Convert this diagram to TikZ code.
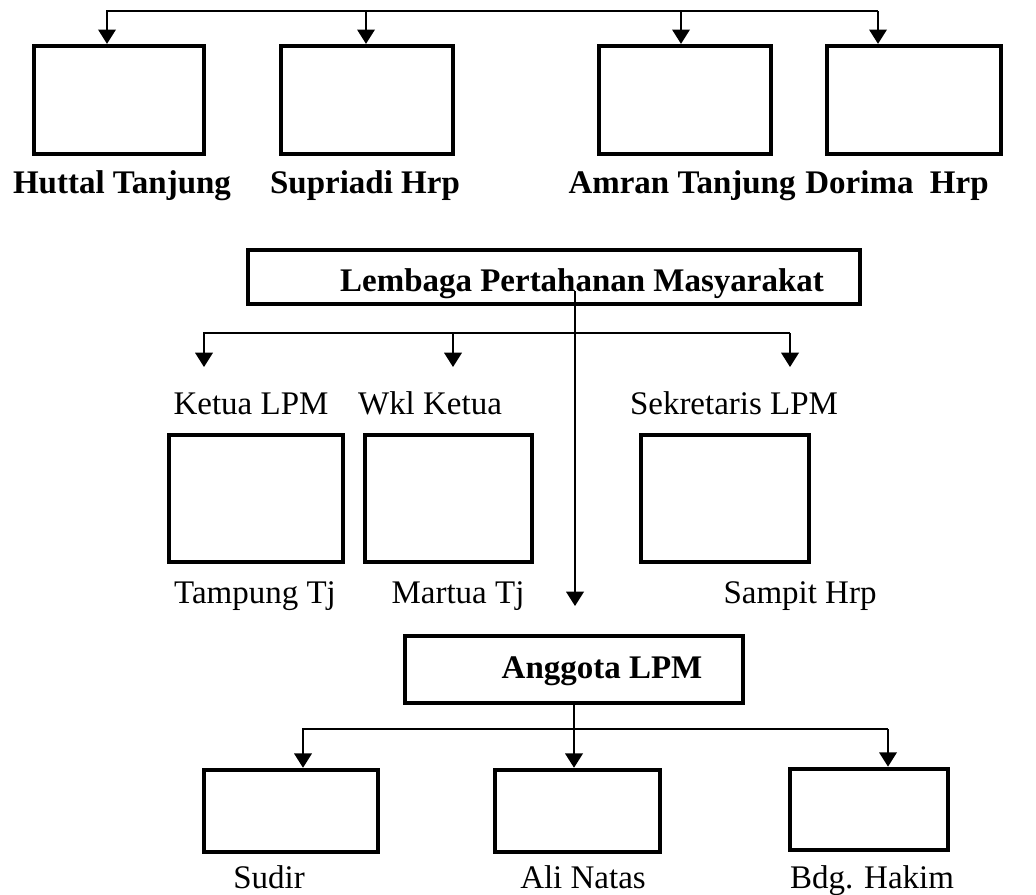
\documentclass[tikz,border=0pt]{standalone}
\usepackage{fontspec}
\setmainfont{Liberation Serif}
\usetikzlibrary{arrows.meta}

\begin{document}
\begin{tikzpicture}[
    x=0.01278cm, y=-0.01278cm,
    box/.style={rectangle, draw, line width=1.6pt, minimum width=2.2cm, minimum height=1.38cm},
    headbox/.style={rectangle, draw, line width=1.6pt},
    bold/.style={anchor=base, font=\fontsize{12}{14}\selectfont\bfseries},
    plain/.style={anchor=base, font=\fontsize{12}{14}\selectfont},
    link/.style={line width=0.6pt},
    arr/.style={link, -{Triangle[length=5.2pt,width=6.4pt]}}
]
    \useasboundingbox (0,0) rectangle (1036,894);

    % top row
    \node[box, minimum width=2.17cm] (hut) at (119,100) {};
    \node[box] (sup) at (367,100) {};
    \node[box] (amr) at (685,100) {};
    \node[box, minimum width=2.22cm] (dor) at (914,100) {};
    \node[bold] (huttal) at (122,193) {Huttal Tanjung};
    \node[bold] (supriadi) at (365,193) {Supriadi Hrp};
    \node[bold] (amran) at (682,193) {Amran Tanjung};
    \node[bold] (dorima) at (897,193) {Dorima\ \ Hrp};

    \coordinate (t1) at (107,11);
    \coordinate (t2) at (366,11);
    \coordinate (t3) at (681,11);
    \coordinate (t4) at (878,11);
    \draw[arr] (t4) -- (t1) -- (t1 |- hut.north);
    \draw[arr] (t2) -- (t2 |- sup.north);
    \draw[arr] (t3) -- (t3 |- amr.north);
    \draw[arr] (t4) -- (t4 |- dor.north);

    % LPM
    \node[headbox, minimum width=7.82cm, minimum height=0.69cm] (lpm) at (554,277) {};
    \node[bold] (lpmtext) at (582,291) {Lembaga Pertahanan Masyarakat};

    \coordinate (m1) at (204,333);
    \coordinate (m2) at (453,333);
    \coordinate (m3) at (790,333);
    \coordinate (k1) at (204,367);
    \coordinate (k2) at (453,367);
    \coordinate (k3) at (790,367);
    \draw[arr] (m3) -- (m1) -- (k1);
    \draw[arr] (m2) -- (k2);
    \draw[arr] (m3) -- (k3);

    \node[plain] (ketua) at (251,414) {Ketua LPM};
    \node[plain] (wakil) at (430,414) {Wkl Ketua};
    \node[plain] (sekr) at (734,414) {Sekretaris LPM};

    \node[box, minimum width=2.22cm, minimum height=1.62cm] (tamp) at (256,498.5) {};
    \node[box, minimum width=2.13cm, minimum height=1.62cm] (mart) at (448.5,498.5) {};
    \node[box, minimum width=2.15cm, minimum height=1.62cm] (samp) at (725,498.5) {};
    \node[plain] (tampung) at (255,603) {Tampung Tj};
    \node[plain] (martua) at (458,603) {Martua Tj};
    \node[plain] (sampit) at (800,603) {Sampit Hrp};

    \coordinate (drop) at (575,606);
    \draw[arr] (drop |- lpmtext.base) -- (drop);

    % anggota
    \node[headbox, minimum width=4.32cm, minimum height=0.86cm] (angg) at (574,669.5) {};
    \node[bold] (anggtext) at (602,678) {Anggota LPM};

    \node[box, minimum width=2.22cm, minimum height=1.05cm] (sud) at (291,811) {};
    \node[box, minimum width=2.11cm, minimum height=1.05cm] (ali) at (577.5,811) {};
    \node[box, minimum width=2.02cm, minimum height=1.04cm] (bdg) at (869,809.5) {};
    \node[plain] (sudir) at (269,888) {Sudir};
    \node[plain] (alinatas) at (583,888) {Ali Natas};
    \node[plain] (hakim) at (872,888) {Bdg. Hakim};

    \coordinate (a1) at (303,729);
    \coordinate (a3) at (888,729);
    \draw[arr] (angg.south) -- (angg.south |- ali.north);
    \draw[arr] (a3) -- (a1) -- (a1 |- sud.north);
    \draw[arr] (a3) -- (a3 |- bdg.north);
\end{tikzpicture}
\end{document}
